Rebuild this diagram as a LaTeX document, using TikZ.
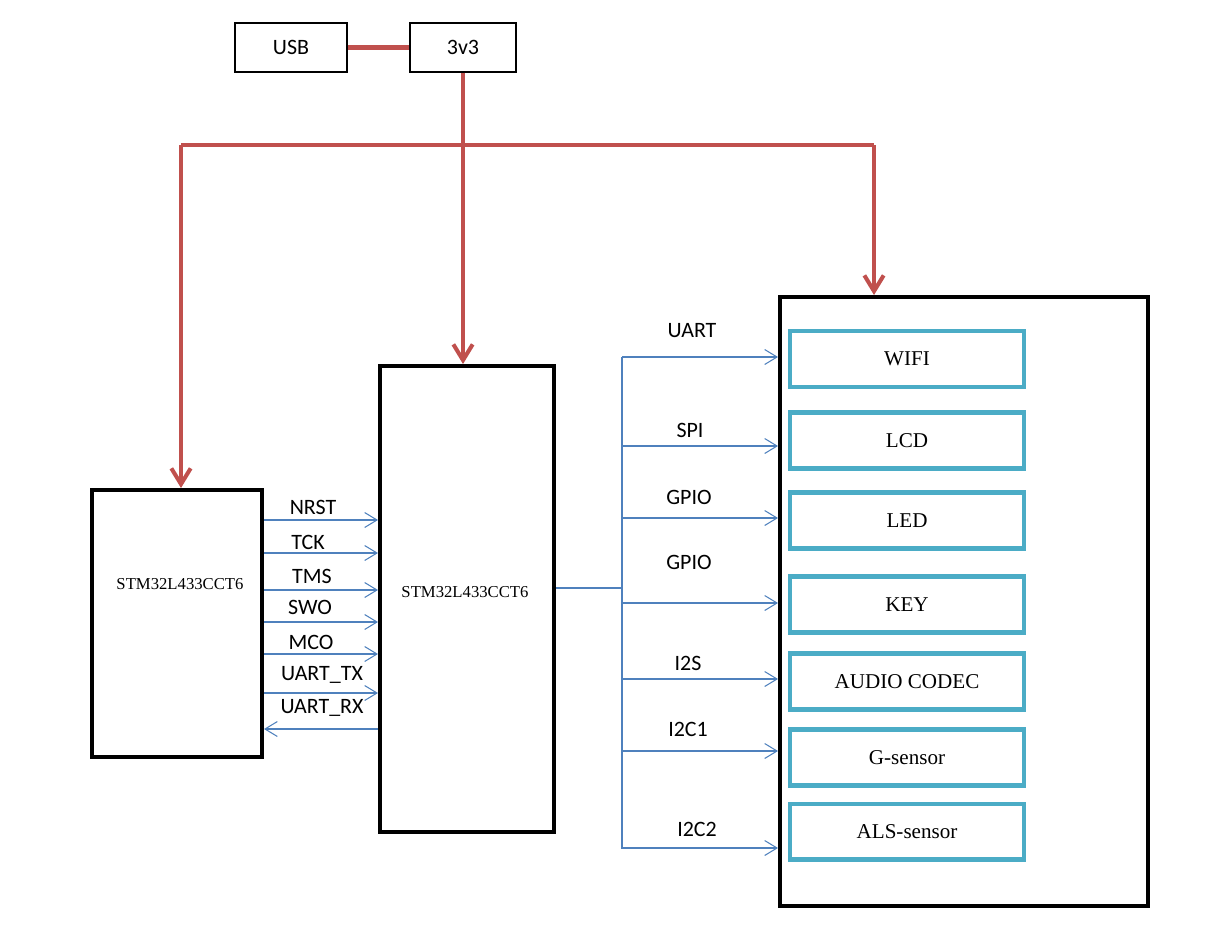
\documentclass[tikz,border=0pt]{standalone}
\usepackage{fontspec}
\setmainfont{Liberation Serif}
\newfontfamily\calib{Carlito}
\usetikzlibrary{arrows.meta,calc}
\definecolor{pwrred}{HTML}{C0504D}
\definecolor{sigblue}{HTML}{4F81BD}
\definecolor{modteal}{HTML}{4BACC6}
\begin{document}
\begin{tikzpicture}[x=0.02cm,y=-0.02cm,
  thinbox/.style={draw=black, line width=0.7pt, inner sep=0pt, font=\calib\fontsize{12.5}{15}\selectfont},
  chipbox/.style={draw=black, line width=2.3pt, inner sep=0pt},
  modbox/.style={draw=modteal, line width=2.3pt, minimum width=4.68cm, minimum height=1.12cm, inner sep=0pt, font=\fontsize{12}{14}\selectfont},
  chiptext/.style={font=\fontsize{9.5}{11}\selectfont, inner sep=0pt},
  sig/.style={draw=sigblue, line width=0.6pt, -{Straight Barb[length=7pt,width=8.5pt]}},
  busline/.style={draw=sigblue, line width=0.6pt},
  siglabel/.style={font=\calib\fontsize{12.5}{15}\selectfont, inner sep=0pt},
  pwr/.style={draw=pwrred, line width=2.3pt},
  pwrarrow/.style={pwr, -{Straight Barb[length=9pt,width=11pt]}},
]
\useasboundingbox (0,0) rectangle (1226,940);

% power boxes
\node[thinbox, minimum width=2.24cm, minimum height=0.98cm] (usb) at (291,47.5) {USB};
\node[thinbox, minimum width=2.12cm, minimum height=0.98cm] (v33) at (463,47.5) {3v3};

% chips
\node[chipbox, minimum width=3.4cm, minimum height=5.34cm] (left) at (177,623.5) {};
\node[chiptext] (lefttxt) at (180,584) {STM32L433CCT6};
\node[chipbox, minimum width=3.48cm, minimum height=9.32cm] (mid) at (467,599) {};
\node[chiptext] (midtxt) at (465,592) {STM32L433CCT6};

% big module box
\node[chipbox, minimum width=7.36cm, minimum height=12.18cm] (big) at (964,601.5) {};
\node[modbox] (wifi) at (907,359) {WIFI};
\node[modbox] (lcd) at (907,440.5) {LCD};
\node[modbox] (led) at (907,520.5) {LED};
\node[modbox] (key) at (907,604.5) {KEY};
\node[modbox] (audio) at (907,681.5) {AUDIO CODEC};
\node[modbox] (gsen) at (907,757.5) {G-sensor};
\node[modbox] (als) at (907,831.5) {ALS-sensor};

% power wiring
\coordinate (jc) at (463,145);
\coordinate (jl) at (181,145);
\coordinate (jr) at (874,145);
\draw[draw=pwrred, line width=2.8pt] (usb.east) -- (v33.west);
\draw[pwr] (jl) -- (jr);
\draw[pwrarrow] (v33.south) -- (v33.south |- mid.north);
\draw[pwrarrow] (jl) -- (jl |- left.north);
\draw[pwrarrow] (jr) -- (jr |- big.north);

% debug / uart signals between chips
\foreach \yy/\nm in {520/a,553/b,590/c,622/d,654/e,693/f}{
  \coordinate (s\nm) at (300,\yy);
  \draw[sig] (left.east |- s\nm) -- (mid.west |- s\nm);
}
\coordinate (sg) at (300,729);
\draw[sig] (mid.west |- sg) -- (left.east |- sg);

\node[siglabel] (lnrst) at (313,507) {NRST};
\node[siglabel] (ltck) at (308,542) {TCK};
\node[siglabel] (ltms) at (312,576) {TMS};
\node[siglabel] (lswo) at (310,607) {SWO};
\node[siglabel] (lmco) at (311,642) {MCO};
\node[siglabel] (ltx) at (322,675) {UART\_TX};
\node[siglabel] (lrx) at (322,708) {UART\_RX};

% peripheral bus
\coordinate (bj) at (622,588);
\coordinate (btop) at (622,357);
\coordinate (bbot) at (622,849);
\draw[busline] (mid.east |- bj) -- (bj);
\draw[busline] (btop) -- (bbot);
\foreach \yy/\nm in {357/u,446/s,518/g,603/k,679/i,751/c,848/d}{
  \coordinate (b\nm) at (622,\yy);
  \draw[sig] (b\nm) -- (big.west |- b\nm);
}
\node[siglabel] (luart) at (692,331) {UART};
\node[siglabel] (lspi) at (690,430) {SPI};
\node[siglabel] (lgpio1) at (689,497) {GPIO};
\node[siglabel] (lgpio2) at (689,562) {GPIO};
\node[siglabel] (li2s) at (688,663) {I2S};
\node[siglabel] (li2c1) at (688,729) {I2C1};
\node[siglabel] (li2c2) at (697,829) {I2C2};
\end{tikzpicture}
\end{document}
